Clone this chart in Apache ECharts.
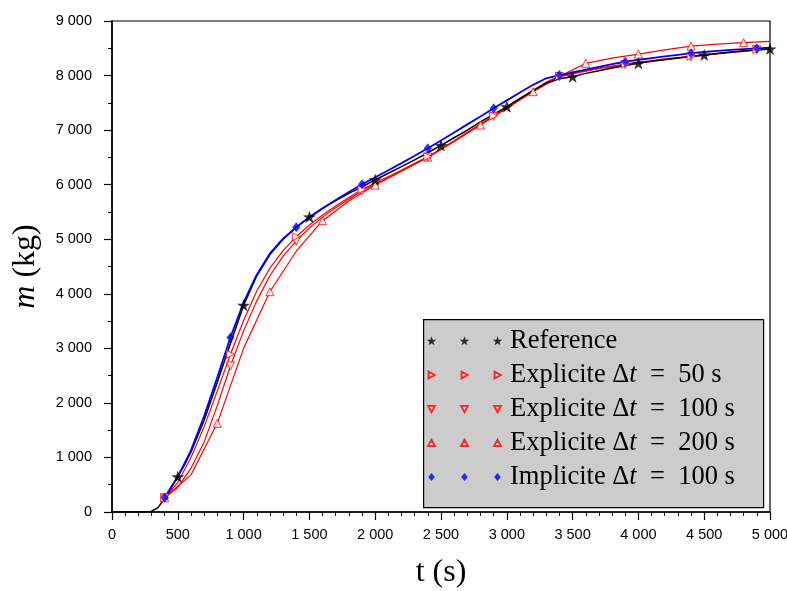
<!DOCTYPE html>
<html><head><meta charset="utf-8">
<script src="https://cdn.jsdelivr.net/npm/echarts/dist/echarts.min.js"></script>
<style>html,body{margin:0;padding:0;background:#fff}#c{width:787px;height:591px}</style>
</head><body><div id="c"></div>
<script>
// ---- data (t in s, m in kg) ----
const refT = [0,100,200,290,350,400,450,500,550,600,700,800,900,1000,1100,1200,1300,1400,1500,1600,1700,1800,1900,2000,2100,2200,2300,2400,2500,2600,2700,2800,2900,3000,3100,3200,3300,3400,3500,3600,3700,3800,3900,4000,4100,4200,4300,4400,4500,4600,4700,4800,4900,5000];
const refM = [0,0,0,0,80,250,440,647,860,1100,1680,2380,3090,3790,4330,4720,5000,5220,5410,5570,5710,5840,5960,6090,6210,6330,6455,6585,6720,6860,7000,7150,7290,7430,7580,7730,7860,7940,7980,8040,8090,8140,8185,8225,8260,8290,8320,8350,8378,8405,8430,8450,8470,8488];
const refMarkT = [500,1000,1500,2000,2500,3000,3500,4000,4500,5000];

const simT = [400,500,600,700,800,900,1000,1100,1200,1300,1400,1500,1600,1700,1800,1900,2000,2100,2200,2300,2400,2500,2600,2700,2800,2900,3000,3100,3200,3300,3400,3500,3600,3700,3800,3900,4000,4100,4200,4300,4400,4500,4600,4700,4800,4900,5000];
const impl100M = [265,650,1130,1760,2470,3200,3840,4350,4740,5010,5220,5400,5565,5720,5865,6006,6135,6265,6395,6530,6666,6810,6955,7105,7250,7399,7545,7690,7830,7950,8010,8060,8110,8160,8210,8253,8290,8320,8350,8380,8410,8432,8452,8470,8486,8499,8510];
const exp50M = [260,540,1000,1560,2220,2890,3510,4050,4470,4790,5046,5260,5445,5610,5765,5910,6035,6150,6268,6390,6515,6655,6805,6960,7110,7262,7415,7570,7725,7880,7990,8040,8090,8135,8175,8210,8245,8275,8305,8330,8355,8380,8405,8430,8455,8478,8495];
const exp100M = [260,450,800,1280,1950,2676,3320,3870,4330,4690,4967,5205,5405,5575,5735,5885,6010,6128,6250,6375,6505,6645,6795,6950,7100,7252,7405,7560,7715,7870,7980,8030,8080,8125,8165,8200,8235,8265,8295,8320,8345,8370,8395,8420,8445,8470,8488];
const exp200T = [400,600,800,1000,1200,1400,1600,1800,2000,2200,2400,2600,2800,3000,3200,3400,3600,3800,4000,4200,4400,4600,4800,5000];
const exp200M = [260,680,1625,3000,4038,4780,5340,5700,5993,6245,6505,6790,7093,7400,7704,7980,8224,8320,8394,8470,8541,8575,8602,8625];
const simMarkT = [400,900,1400,1900,2400,2900,3400,3900,4400,4900];
const exp200MarkT = [400,800,1200,1600,2000,2400,2800,3200,3600,4000,4400,4800];

const xTicks = {min:0, max:5000, step:500};
const yTicks = {min:0, max:9000, step:1000};

const names = ['Reference','Explicite Δt = 50 s','Explicite Δt = 100 s','Explicite Δt = 200 s','Implicite Δt = 100 s'];

// ---- helpers ----
const pairs = (T, M) => T.map((t, i) => [t, M[i]]);
const pick = (T, M, sel) => sel.map(t => [t, M[T.indexOf(t)]]);
const fmt = v => String(v).replace(/\B(?=(\d{3})+(?!\d))/g, ' ');

function starPts(cx, cy, R, r) {
  const p = [];
  for (let k = 0; k < 10; k++) {
    const a = -Math.PI / 2 + k * Math.PI / 5;
    const rr = k % 2 === 0 ? R : r;
    p.push([cx + rr * Math.cos(a), cy + rr * Math.sin(a)]);
  }
  return p;
}
const poly = (pts, dx) => 'M' + pts.map(p => (p[0] + dx).toFixed(2) + ' ' + p[1].toFixed(2)).join(' L') + ' Z';
const iconPath = pts => 'path://M0 0 M75 10 ' + [0, 33, 66].map(dx => poly(pts, dx)).join(' ');

const STAR = 'path://' + poly(starPts(10, 10, 10, 3.9), 0);
const legStar = starPts(4.5, 5.3, 5.0, 1.95);
const legRight = [[1.6,1.7],[7.6,5],[1.6,8.3]];
const legDown = [[1.2,2.1],[7.8,2.1],[4.5,8.1]];
const legUp = [[1.2,7.9],[7.8,7.9],[4.5,1.9]];
const legDia = [[4.5,1.1],[7.8,5],[4.5,8.9],[1.2,5]];

const RED = '#ff0000', BLUE = '#0000ff';

const chart = echarts.init(document.getElementById('c'), null, {renderer: 'canvas'});

const lineS = (name, data, color, width, z) => ({
  type: 'line', name: name + '_line', data, symbol: 'none', smooth: false,
  lineStyle: {color, width}, itemStyle: {color}, z, silent: true, animation: false
});
const markS = (name, data, opts) => Object.assign({
  type: 'scatter', name, data, z: 5, animation: false, silent: true
}, opts);

chart.setOption({
  backgroundColor: '#ffffff',
  animation: false,
  grid: {left: 112, right: 17, top: 21, bottom: 79, show: true, borderColor: '#000', borderWidth: 1.2, outerBoundsMode: 'none', containLabel: false},
  xAxis: {
    type: 'value', min: xTicks.min, max: xTicks.max, interval: xTicks.step,
    name: 't (s)', nameLocation: 'middle', nameGap: 45,
    nameTextStyle: {fontFamily: 'Liberation Serif', fontSize: 32, color: '#000'},
    axisLine: {show: true, onZero: false, lineStyle: {color: '#000', width: 1.5}},
    axisTick: {show: true, inside: false, length: 8, lineStyle: {color: '#000', width: 1.2}},
    minorTick: {show: true, splitNumber: 5, length: 4, lineStyle: {color: '#000', width: 1}},
    splitLine: {show: false},
    axisLabel: {show: true, margin: 15, fontFamily: 'Liberation Sans', fontSize: 14.5, color: '#000', formatter: fmt, hideOverlap: false, showMinLabel: true, showMaxLabel: true}
  },
  yAxis: {
    type: 'value', min: yTicks.min, max: yTicks.max, interval: yTicks.step,
    name: '{i|m} (kg)', nameLocation: 'middle', nameGap: 70, nameRotate: 90,
    nameTextStyle: {fontFamily: 'Liberation Serif', fontSize: 32, color: '#000',
      rich: {i: {fontFamily: 'Liberation Serif', fontStyle: 'italic', fontSize: 32, color: '#000'}}},
    axisLine: {show: true, onZero: false, lineStyle: {color: '#000', width: 1.5}},
    axisTick: {show: true, inside: false, length: 8, lineStyle: {color: '#000', width: 1.2}},
    minorTick: {show: true, splitNumber: 2, length: 4, lineStyle: {color: '#000', width: 1}},
    splitLine: {show: false},
    axisLabel: {show: true, margin: 20, fontFamily: 'Liberation Sans', fontSize: 14.5, color: '#000', formatter: fmt, hideOverlap: false, showMinLabel: true, showMaxLabel: true}
  },
  graphic: [{
    type: 'rect', left: 423, top: 319, z: 50,
    shape: {width: 340, height: 188},
    style: {fill: '#cccccc', stroke: '#000', lineWidth: 1.2}
  }],
  legend: {
    show: true, orient: 'vertical', left: 426, top: 324, padding: 0, itemGap: 0,
    itemWidth: 81, itemHeight: 10, symbolKeepAspect: true, selectedMode: false, z: 60,
    data: [
      {name: names[0], icon: iconPath(legStar)},
      {name: names[1], icon: iconPath(legRight)},
      {name: names[2], icon: iconPath(legDown)},
      {name: names[3], icon: iconPath(legUp)},
      {name: names[4], icon: iconPath(legDia)}
    ],
    formatter: n => {
      const m = n.match(/^(\S+) Δt = (\d+) s$/);
      if (!m) return '{r|' + n + '}';
      return '{r|' + m[1] + ' Δ}{i|t}{r|\u2002=\u2002' + m[2] + ' s}';
    },
    textStyle: {fontFamily: 'Liberation Serif', fontSize: 26.5, color: '#000', lineHeight: 34,
      rich: {
        r: {fontFamily: 'Liberation Serif', fontSize: 26.5, color: '#000', lineHeight: 34},
        i: {fontFamily: 'Liberation Serif', fontStyle: 'italic', fontSize: 26.5, color: '#000', lineHeight: 34}
      }}
  },
  series: [
    lineS(names[3], pairs(exp200T, exp200M), RED, 1.2, 2),
    lineS(names[2], pairs(simT, exp100M), RED, 1.2, 2),
    lineS(names[1], pairs(simT, exp50M), RED, 1.2, 2),
    lineS(names[0], pairs(refT, refM), '#000', 1.5, 3),
    lineS(names[4], pairs(simT, impl100M), BLUE, 1.8, 4),
    markS(names[3], pick(exp200T, exp200M, exp200MarkT), {symbol: 'triangle', symbolSize: 8, itemStyle: {color: '#fff', borderColor: RED, borderWidth: 1}}),
    markS(names[2], pick(simT, exp100M, simMarkT), {symbol: 'triangle', symbolRotate: 180, symbolSize: 8, itemStyle: {color: '#fff', borderColor: RED, borderWidth: 1}}),
    markS(names[1], pick(simT, exp50M, simMarkT), {symbol: 'triangle', symbolRotate: -90, symbolSize: 8, itemStyle: {color: '#fff', borderColor: RED, borderWidth: 1}}),
    markS(names[0], pick(refT, refM, refMarkT), {symbol: STAR, symbolKeepAspect: true, symbolSize: 13, itemStyle: {color: '#000', borderWidth: 0}}),
    markS(names[4], pick(simT, impl100M, simMarkT), {symbol: 'diamond', symbolSize: [8, 10], itemStyle: {color: BLUE, borderWidth: 0}})
  ]
});
</script>
</body></html>
